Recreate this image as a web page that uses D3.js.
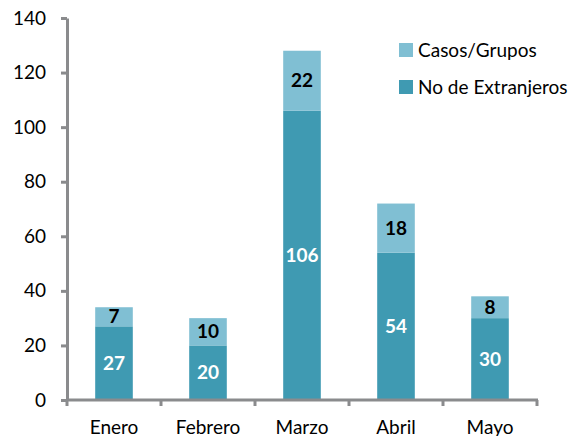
<!DOCTYPE html>
<html>
<head>
<meta charset="utf-8">
<script src="https://cdn.jsdelivr.net/npm/d3@7"></script>
<style>
  body { margin: 0; background: #fff; }
  text { font-family: Lato, "Open Sans", sans-serif; }
</style>
</head>
<body>
<div id="chart"></div>
<script>
const months = ["Enero", "Febrero", "Marzo", "Abril", "Mayo"];
const extranjeros = [27, 20, 106, 54, 30];
const casos = [7, 10, 22, 18, 8];
const yTicks = [0, 20, 40, 60, 80, 100, 120, 140];
const seriesNames = ["Casos/Grupos", "No de Extranjeros"];

const W = 570, H = 436;
const darkC = "#3f9ab2", lightC = "#80bfd3", axisC = "#8a8b8d";

const svg = d3.select("#chart").append("svg")
  .attr("width", W).attr("height", H);

const x = d3.scaleBand().domain(months).range([67, 537]).paddingInner(0.6).paddingOuter(0.3);
const xb = d3.scaleBand().domain(months).range([67, 537]);
const y = d3.scaleLinear().domain([0, 140]).range([400, 18]);

const data = months.map((m, i) => ({ m, a: extranjeros[i], b: casos[i] }));

// bars
const g = svg.append("g");
g.selectAll(".bar-a").data(data).enter().append("rect")
  .attr("x", d => x(d.m)).attr("width", x.bandwidth())
  .attr("y", d => y(d.a)).attr("height", d => y(0) - y(d.a))
  .attr("fill", darkC);
g.selectAll(".bar-b").data(data).enter().append("rect")
  .attr("x", d => x(d.m)).attr("width", x.bandwidth())
  .attr("y", d => y(d.a + d.b)).attr("height", d => y(d.a) - y(d.a + d.b))
  .attr("fill", lightC);

// value labels
g.selectAll(".lab-a").data(data).enter().append("text")
  .attr("x", d => x(d.m) + x.bandwidth() / 2)
  .attr("y", d => y(d.a / 2))
  .attr("dy", "0.35em")
  .attr("text-anchor", "middle")
  .attr("font-size", 19).attr("font-weight", "bold")
  .attr("fill", "#fff")
  .text(d => d.a);
g.selectAll(".lab-b").data(data).enter().append("text")
  .attr("x", d => x(d.m) + x.bandwidth() / 2)
  .attr("y", d => y(d.a + d.b / 2))
  .attr("dy", "0.35em")
  .attr("text-anchor", "middle")
  .attr("font-size", 19).attr("font-weight", "bold")
  .attr("fill", "#000")
  .text(d => d.b);

// y axis
const yAxis = svg.append("g").attr("transform", "translate(67,0)")
  .call(d3.axisLeft(y).tickValues(yTicks).tickSize(6).tickSizeOuter(0).tickPadding(15));
yAxis.select(".domain").attr("stroke", axisC).attr("stroke-width", 3);
yAxis.selectAll(".tick line").attr("stroke", axisC).attr("stroke-width", 3);
yAxis.selectAll(".tick text").attr("font-size", 19).attr("fill", "#000")
  .style("font-family", "Lato, 'Open Sans', sans-serif");

// x axis with boundary ticks
const xAxisG = svg.append("g");
xAxisG.append("line")
  .attr("x1", 66).attr("x2", 538).attr("y1", 400).attr("y2", 400)
  .attr("stroke", axisC).attr("stroke-width", 3);
const bounds = months.map(m => xb(m)).concat([xb(months[months.length - 1]) + xb.bandwidth()]);
xAxisG.selectAll(".xt").data(bounds).enter().append("line")
  .attr("x1", d => d).attr("x2", d => d)
  .attr("y1", 400).attr("y2", 406)
  .attr("stroke", axisC).attr("stroke-width", 3);
xAxisG.selectAll(".xl").data(months).enter().append("text")
  .attr("x", d => xb(d) + xb.bandwidth() / 2)
  .attr("y", 434)
  .attr("text-anchor", "middle")
  .attr("font-size", 19)
  .attr("fill", "#000")
  .text(d => d);

// legend
const legend = svg.append("g").attr("transform", "translate(399,43)");
const legItems = legend.selectAll("g").data(seriesNames).enter().append("g")
  .attr("transform", (d, i) => `translate(0,${i * 37})`);
legItems.append("rect").attr("width", 14).attr("height", 14)
  .attr("fill", (d, i) => i === 0 ? lightC : darkC);
legItems.append("text").attr("x", 19).attr("y", 7).attr("dy", "0.35em")
  .attr("font-size", 19).attr("fill", "#000")
  .text(d => d);
</script>
</body>
</html>
